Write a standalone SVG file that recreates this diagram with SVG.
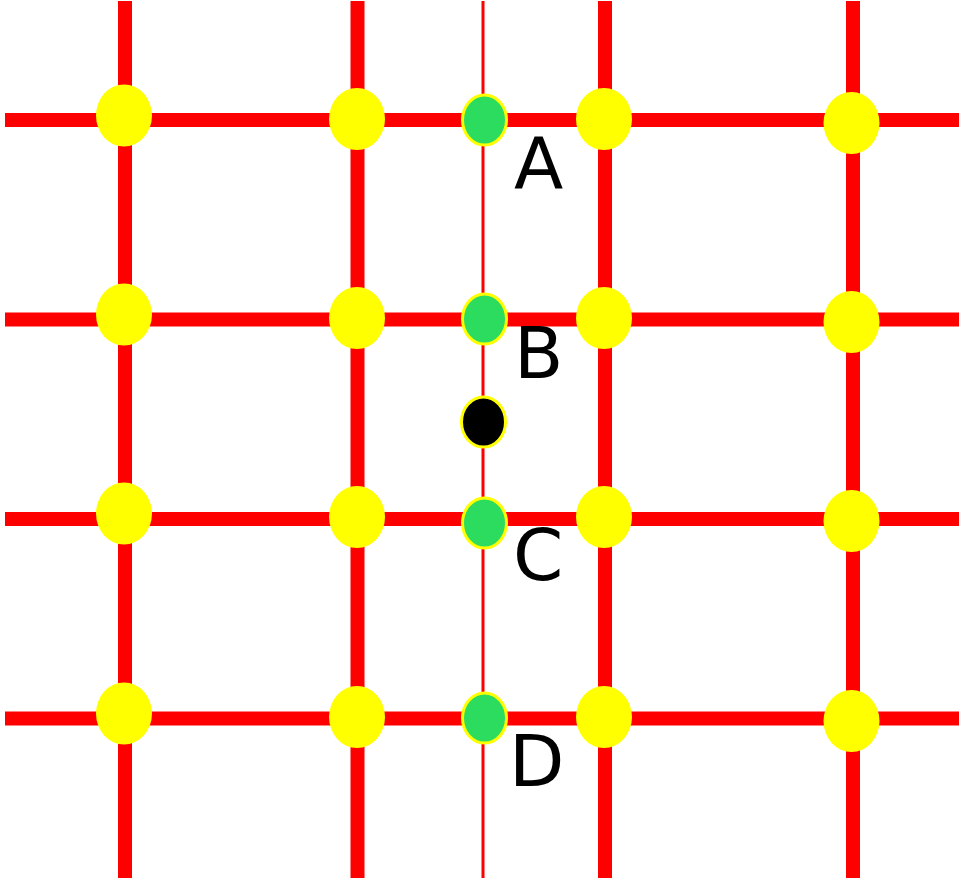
<svg xmlns="http://www.w3.org/2000/svg" width="966" height="885" viewBox="0 0 966 885">
<style>
.g{stroke:#ff0000;stroke-width:14;fill:none}
.t{stroke:#ff0000;stroke-width:3;fill:none}
.y{fill:#ffff00}
.n{fill:#2bdc5f;stroke:#ffff00;stroke-width:3}
.k{fill:#000;stroke:#ffff00;stroke-width:3}
.l{font-family:"DejaVu Sans",sans-serif;font-size:72px;fill:#000}
</style>
<rect width="966" height="885" fill="#fff"/>
<g id="connectors">
<line class="g" x1="5" y1="120" x2="959" y2="120"/>
<line class="g" x1="5" y1="319.5" x2="959" y2="319.5"/>
<line class="g" x1="5" y1="519" x2="959" y2="519"/>
<line class="g" x1="5" y1="718.5" x2="959" y2="718.5"/>
<line class="g" x1="125" y1="1" x2="125" y2="878"/>
<line class="g" x1="357.5" y1="1" x2="357.5" y2="878"/>
<line class="t" x1="483" y1="1" x2="483" y2="878"/>
<line class="g" x1="605" y1="1" x2="605" y2="878"/>
<line class="g" x1="853" y1="1" x2="853" y2="878"/>
</g>
<g id="yellow-nodes">
<g id="y11"><ellipse class="y" cx="124" cy="115.5" rx="28" ry="31"/></g>
<g id="y12"><ellipse class="y" cx="357" cy="119" rx="28" ry="31"/></g>
<g id="y13"><ellipse class="y" cx="604" cy="119" rx="28" ry="31"/></g>
<g id="y14"><ellipse class="y" cx="851.5" cy="123" rx="28" ry="31"/></g>
<g id="y21"><ellipse class="y" cx="124" cy="314.5" rx="28" ry="31"/></g>
<g id="y22"><ellipse class="y" cx="357" cy="318" rx="28" ry="31"/></g>
<g id="y23"><ellipse class="y" cx="604" cy="318" rx="28" ry="31"/></g>
<g id="y24"><ellipse class="y" cx="851.5" cy="322" rx="28" ry="31"/></g>
<g id="y31"><ellipse class="y" cx="124" cy="513.5" rx="28" ry="31"/></g>
<g id="y32"><ellipse class="y" cx="357" cy="517" rx="28" ry="31"/></g>
<g id="y33"><ellipse class="y" cx="604" cy="517" rx="28" ry="31"/></g>
<g id="y34"><ellipse class="y" cx="851.5" cy="521" rx="28" ry="31"/></g>
<g id="y41"><ellipse class="y" cx="124" cy="713.5" rx="28" ry="31"/></g>
<g id="y42"><ellipse class="y" cx="357" cy="717" rx="28" ry="31"/></g>
<g id="y43"><ellipse class="y" cx="604" cy="717" rx="28" ry="31"/></g>
<g id="y44"><ellipse class="y" cx="851.5" cy="721" rx="28" ry="31"/></g>
</g>
<g id="A"><ellipse class="n" cx="484.5" cy="120" rx="22" ry="25"/><text class="l" x="514" y="188">A</text></g>
<g id="B"><ellipse class="n" cx="484.5" cy="319" rx="22" ry="25"/><text class="l" x="514" y="378">B</text></g>
<g id="X"><ellipse class="k" cx="483.5" cy="422" rx="22" ry="25"/></g>
<g id="C"><ellipse class="n" cx="484.5" cy="523" rx="22" ry="25"/><text class="l" x="513" y="580">C</text></g>
<g id="D"><ellipse class="n" cx="484.5" cy="718" rx="22" ry="25"/><text class="l" x="509" y="786">D</text></g>
</svg>
